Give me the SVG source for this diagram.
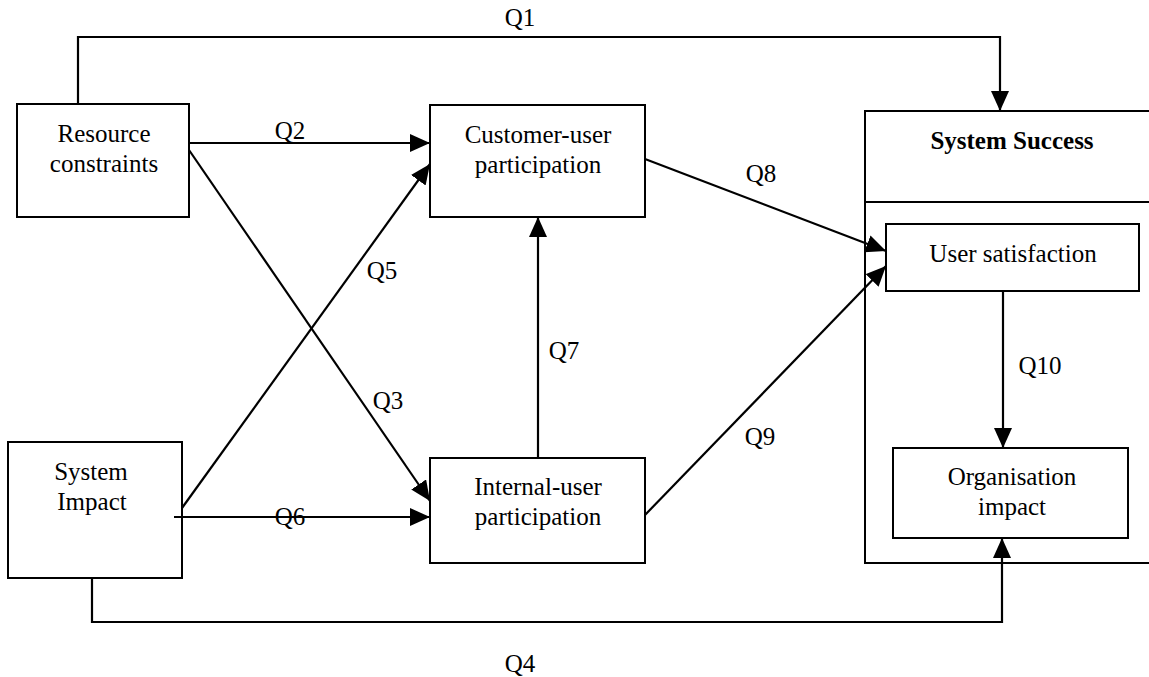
<svg xmlns="http://www.w3.org/2000/svg" width="1149" height="677" viewBox="0 0 1149 677">
<style>
.box{fill:#fff;stroke:#000;stroke-width:2}
.t{font-family:"Liberation Serif","Times New Roman",serif;font-size:25px;fill:#000;text-anchor:middle}
.b{font-weight:bold}
.c{fill:none;stroke:#000;stroke-width:2.2}
</style>
<defs>
<marker id="ah" markerUnits="userSpaceOnUse" markerWidth="22" markerHeight="20" refX="20" refY="9" orient="auto">
<path d="M0,0 L20,9 L0,18 z" fill="#000"/>
</marker>
</defs>
<rect width="1149" height="677" fill="#fff"/>
<g id="system-success">
<rect class="box" x="865" y="111" width="300" height="452"/>
<line x1="865" y1="202" x2="1149" y2="202" stroke="#000" stroke-width="2"/>
<text class="t b" x="1012" y="149">System Success</text>
</g>
<g id="resource-constraints">
<rect class="box" x="17" y="104" width="172" height="113"/>
<text class="t" x="104" y="142">Resource</text>
<text class="t" x="104" y="172">constraints</text>
</g>
<g id="system-impact">
<rect class="box" x="8" y="442" width="174" height="136"/>
<text class="t" x="91" y="480">System</text>
<text class="t" x="92" y="510">Impact</text>
</g>
<g id="customer-user">
<rect class="box" x="430" y="105" width="215" height="112"/>
<text class="t" x="538" y="143">Customer-user</text>
<text class="t" x="538" y="173">participation</text>
</g>
<g id="internal-user">
<rect class="box" x="430" y="458" width="215" height="105"/>
<text class="t" x="538" y="495">Internal-user</text>
<text class="t" x="538" y="525">participation</text>
</g>
<g id="user-satisfaction">
<rect class="box" x="886" y="224" width="253" height="67"/>
<text class="t" x="1013" y="262">User satisfaction</text>
</g>
<g id="organisation-impact">
<rect class="box" x="893" y="448" width="235" height="90"/>
<text class="t" x="1012" y="485">Organisation</text>
<text class="t" x="1012" y="515">impact</text>
</g>
<g id="connectors">
<polyline class="c" points="78,104 78,37 1000,37 1000,111" marker-end="url(#ah)"/>
<line class="c" x1="189" y1="143" x2="430" y2="143" marker-end="url(#ah)"/>
<line class="c" x1="189" y1="150" x2="430" y2="501" marker-end="url(#ah)"/>
<line class="c" x1="182" y1="508" x2="430" y2="164" marker-end="url(#ah)"/>
<line class="c" x1="174" y1="517" x2="430" y2="517" marker-end="url(#ah)"/>
<line class="c" x1="538" y1="458" x2="538" y2="217" marker-end="url(#ah)"/>
<line class="c" x1="645" y1="159" x2="886" y2="251" marker-end="url(#ah)"/>
<line class="c" x1="645" y1="515" x2="886" y2="266" marker-end="url(#ah)"/>
<line class="c" x1="1003" y1="291" x2="1003" y2="448" marker-end="url(#ah)"/>
<polyline class="c" points="92,578 92,622 1002,622 1002,538" marker-end="url(#ah)"/>
</g>
<g id="labels">
<text class="t" x="520" y="26">Q1</text>
<text class="t" x="290" y="139">Q2</text>
<text class="t" x="388" y="409">Q3</text>
<text class="t" x="520" y="672">Q4</text>
<text class="t" x="382" y="279">Q5</text>
<text class="t" x="290" y="525">Q6</text>
<text class="t" x="564" y="359">Q7</text>
<text class="t" x="761" y="182">Q8</text>
<text class="t" x="760" y="445">Q9</text>
<text class="t" x="1040" y="374">Q10</text>
</g>
</svg>
